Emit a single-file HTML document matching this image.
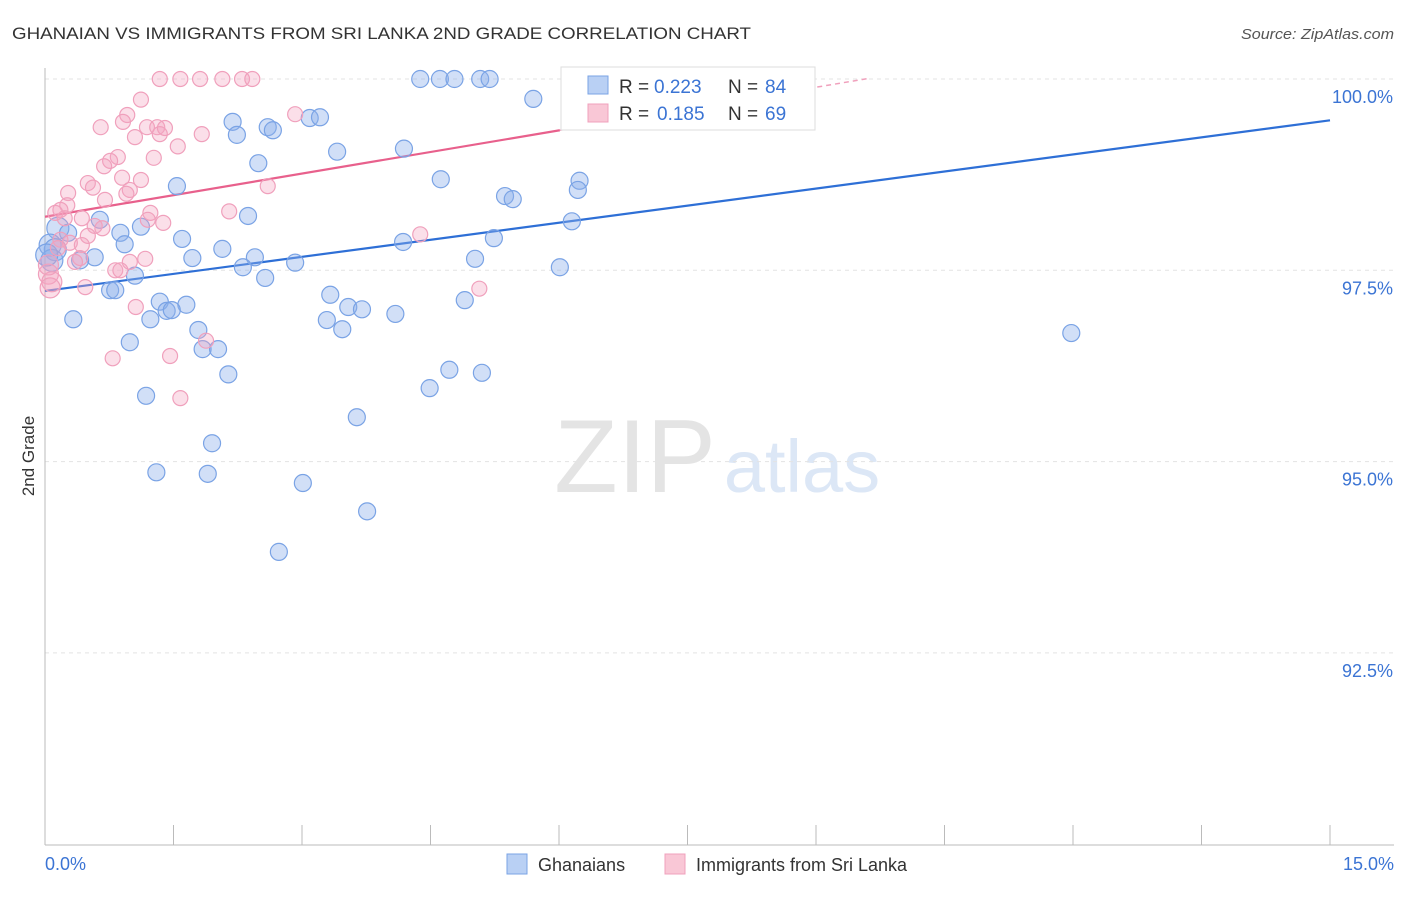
<!DOCTYPE html>
<html><head><meta charset="utf-8"><style>
body{margin:0;background:#fff;font-family:"Liberation Sans",sans-serif}
svg text{font-family:"Liberation Sans",sans-serif}
</style></head><body>
<svg id="chart" width="1406" height="892" xmlns="http://www.w3.org/2000/svg">
<text x="12" y="39" font-size="17" fill="#333" textLength="739" lengthAdjust="spacingAndGlyphs">GHANAIAN VS IMMIGRANTS FROM SRI LANKA 2ND GRADE CORRELATION CHART</text>
<text x="1241" y="39" font-size="15" fill="#555" font-style="italic" textLength="153" lengthAdjust="spacingAndGlyphs">Source: ZipAtlas.com</text>
<text x="34" y="456" font-size="17" fill="#333" text-anchor="middle" transform="rotate(-90 34 456)">2nd Grade</text>
<g>
<text x="635" y="492" font-size="104" fill="#e4e4e4" font-family="Liberation Serif" text-anchor="middle">ZIP</text>
<text x="802" y="492" font-size="74" fill="#dce7f6" text-anchor="middle">atlas</text>
</g>
<g id="grid"></g><g id="axes"></g><g id="trend"></g><g id="pts"></g>
<g>
<rect x="561" y="67" width="254" height="63" fill="#fff" stroke="#ddd"/>
<rect x="588" y="76" width="20" height="18" fill="#b9d0f4" stroke="#7aa3e5"/>
<text y="93" font-size="19" fill="#333"><tspan x="619">R =</tspan><tspan x="654" fill="#3b74d4">0.223</tspan><tspan x="728">N =</tspan><tspan x="765" fill="#3b74d4">84</tspan></text>
<rect x="588" y="104" width="20" height="18" fill="#f9c7d6" stroke="#f0a0bc"/>
<text y="120" font-size="19" fill="#333"><tspan x="619">R =</tspan><tspan x="657" fill="#3b74d4">0.185</tspan><tspan x="728">N =</tspan><tspan x="765" fill="#3b74d4">69</tspan></text>
</g>
<g>
<rect x="507" y="854" width="20" height="20" fill="#b9d0f4" stroke="#7aa3e5"/>
<text x="538" y="871" font-size="18" fill="#333">Ghanaians</text>
<rect x="665" y="854" width="20" height="20" fill="#f9c7d6" stroke="#f0a0bc"/>
<text x="696" y="871" font-size="18" fill="#333">Immigrants from Sri Lanka</text>
</g>
</svg>
<script>
const yTicks=[100,97.5,95,92.5];
const yTickLabels=["100.0%","97.5%","95.0%","92.5%"];
const xTicks=[0,1.5,3,4.5,6,7.5,9,10.5,12,13.5,15];
const xEndLabels=["0.0%","15.0%"];
const blueX=[4.38,4.61,4.78,5.08,5.19,5.70,2.19,2.60,2.66,3.09,3.21,2.24,3.41,4.19,2.49,4.62,1.54,6.24,6.22,5.37,5.46,2.37,6.15,1.12,0.15,0.27,0.64,0.88,0.93,1.60,2.07,4.18,5.24,0.06,0.12,0.58,0.41,1.72,2.45,2.92,2.31,5.02,6.01,2.57,1.05,0.76,0.82,3.33,1.34,1.65,1.42,1.48,3.54,3.70,1.23,0.33,3.29,3.47,4.09,4.90,1.79,0.99,1.84,2.02,2.14,4.72,5.10,4.49,1.18,3.64,1.95,1.30,1.90,3.01,3.76,2.73,11.98,0.08,7.23,0.02];
const blueY=[100,100,100,100,100,99.74,99.44,99.37,99.33,99.49,99.50,99.27,99.05,99.09,98.90,98.69,98.60,98.67,98.55,98.47,98.43,98.21,98.14,98.07,98.05,97.99,98.16,97.99,97.84,97.91,97.78,97.87,97.92,97.83,97.77,97.67,97.63,97.66,97.67,97.60,97.54,97.65,97.54,97.40,97.43,97.24,97.24,97.18,97.09,97.05,96.97,96.98,97.02,96.99,96.86,96.86,96.85,96.73,96.93,97.11,96.72,96.56,96.47,96.47,96.14,96.20,96.16,95.96,95.86,95.58,95.24,94.86,94.84,94.72,94.35,93.82,96.68,97.63,100,97.70];
const pinkX=[1.34,1.58,1.81,2.07,2.30,2.42,1.12,0.96,0.65,0.91,1.19,1.31,1.34,1.40,1.05,1.83,1.55,0.85,0.76,0.69,1.27,0.50,0.56,0.27,0.90,1.12,0.99,0.95,0.70,0.26,0.18,0.12,0.23,0.43,1.23,1.20,1.38,2.15,2.60,2.92,0.58,0.67,0.50,0.18,0.29,0.43,4.38,0.99,0.41,0.35,0.82,0.88,1.17,0.04,0.08,0.06,0.47,1.06,1.88,0.79,1.46,1.58,0.15,0.04,5.07];
const pinkY=[100,100,100,100,100,100,99.73,99.53,99.37,99.44,99.37,99.37,99.28,99.36,99.24,99.28,99.12,98.98,98.93,98.86,98.97,98.64,98.58,98.51,98.71,98.68,98.55,98.50,98.42,98.35,98.29,98.25,98.18,98.18,98.25,98.16,98.12,98.27,98.60,99.54,98.08,98.05,97.95,97.90,97.86,97.83,97.97,97.61,97.66,97.61,97.50,97.50,97.65,97.45,97.35,97.27,97.28,97.02,96.58,96.35,96.38,95.83,97.79,97.57,97.26];
const blueTrend=[97.23,99.46];
const pinkTrend=[98.20,99.33];
const pinkTrendEnd=6.01;
const NS="http://www.w3.org/2000/svg";
const sx=v=>45+v*(1330-45)/15;
const sy=v=>79+(100-v)*76.52;
function mk(tag,attrs,parent){const e=document.createElementNS(NS,tag);for(const k in attrs)e.setAttribute(k,attrs[k]);document.getElementById(parent).appendChild(e);return e;}
yTicks.forEach((t,i)=>{
 const l=mk('line',{x1:45,x2:1394,y1:sy(t),y2:sy(t),stroke:'#e3e3e3','stroke-dasharray':'4,4'},'grid');
 
 
 const tx=mk('text',{x:1393,y:sy(t)+24,'font-size':18,fill:'#3b74d4','text-anchor':'end'},'axes');
 tx.textContent=yTickLabels[i];
 
 
});
const ax=mk('line',{x1:45,x2:45,y1:68,y2:845,stroke:'#bbb'},'axes');


const bx=mk('line',{x1:45,x2:1394,y1:845,y2:845,stroke:'#bbb'},'axes');


xTicks.forEach(t=>{
 const l=mk('line',{x1:sx(t),x2:sx(t),y1:825,y2:845,stroke:'#bbb'},'axes');
 
 
});
const xl0=mk('text',{x:45,y:870,'font-size':18,fill:'#3b74d4'},'axes');xl0.textContent=xEndLabels[0];


const xl1=mk('text',{x:1394,y:870,'font-size':18,fill:'#3b74d4','text-anchor':'end'},'axes');xl1.textContent=xEndLabels[1];


blueX.forEach((x,i)=>{
 const c=mk('circle',{cx:sx(x),cy:sy(blueY[i]),r:x<0.2?11:8.5,fill:'rgba(140,176,236,0.4)',stroke:'#7aa3e5','stroke-width':1.2},'pts');
 
 
});
pinkX.forEach((x,i)=>{
 const c=mk('circle',{cx:sx(x),cy:sy(pinkY[i]),r:x<0.1?10:7.5,fill:'rgba(244,164,192,0.35)',stroke:'#f0a0bc','stroke-width':1.2},'pts');
 
 
});
const bl=mk('line',{x1:sx(0),y1:sy(blueTrend[0]),x2:sx(15),y2:sy(blueTrend[1]),stroke:'#2e6fd6','stroke-width':2.2},'trend');


const slope=(pinkTrend[1]-pinkTrend[0])/pinkTrendEnd;
const pl=mk('line',{x1:sx(0),y1:sy(pinkTrend[0]),x2:sx(pinkTrendEnd),y2:sy(pinkTrend[1]),stroke:'#e8608c','stroke-width':2.2},'trend');


const xe=9.6;
const pd=mk('line',{x1:sx(pinkTrendEnd),y1:sy(pinkTrend[1]),x2:sx(xe),y2:sy(pinkTrend[0]+slope*xe),stroke:'#f0a0bc','stroke-width':1.5,'stroke-dasharray':'5,4'},'trend');


</script>
</body></html>
